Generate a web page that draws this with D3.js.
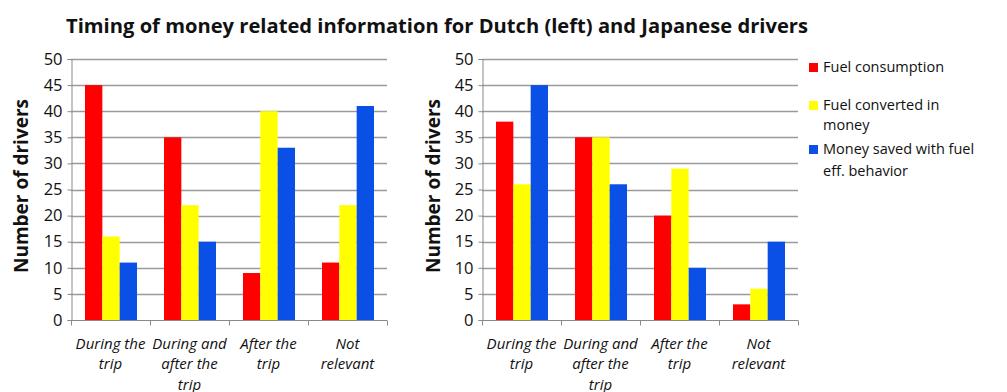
<!DOCTYPE html>
<html>
<head>
<meta charset="utf-8">
<script src="https://cdn.jsdelivr.net/npm/d3@7"></script>
<style>
  body { margin: 0; background: #fff; }
  svg { display: block; }
</style>
</head>
<body>
<svg></svg>
<script>
// categories + series
const categories = [
    ['During the', 'trip'],
    ['During and', 'after the', 'trip'],
    ['After the', 'trip'],
    ['Not', 'relevant']
];
const seriesNames = ['Fuel consumption', 'Fuel converted in money', 'Money saved with fuel eff. behavior'];
const legendLines = [['Fuel consumption'], ['Fuel converted in', 'money'], ['Money saved with fuel', 'eff. behavior']];
const colors = ['#ff0000', '#ffff00', '#0a4fe6'];

const dutchFuel = [45, 35, 9, 11];
const dutchMoney = [16, 22, 40, 22];
const dutchSaved = [11, 15, 33, 41];

const japanFuel = [38, 35, 20, 3];
const japanMoney = [26, 35, 29, 6];
const japanSaved = [45, 26, 10, 15];

const yTicks = [0, 5, 10, 15, 20, 25, 30, 35, 40, 45, 50];

const WIDTH = 1007, HEIGHT = 392;
const TOP = 59, BOTTOM = 320;
const PLOT_W = 316;

const svg = d3.select('svg').attr('width', WIDTH).attr('height', HEIGHT);

// title
svg.append('text')
    .attr('x', 66).attr('y', 33)
    .attr('textLength', 742).attr('lengthAdjust', 'spacingAndGlyphs')
    .style('font-family', 'Open Sans, sans-serif')
    .style('font-weight', 'bold')
    .style('font-size', '19px')
    .attr('fill', '#111')
    .text('Timing of money related information for Dutch (left) and Japanese drivers');

const y = d3.scaleLinear().domain([0, 50]).range([BOTTOM, TOP]);

function drawPanel(left, labelX, data) {
    const g = svg.append('g').attr('transform', `translate(${left},0)`);

    const x = d3.scaleBand().domain(d3.range(categories.length)).range([0, PLOT_W]).paddingInner(0).paddingOuter(0);
    const xs = d3.scaleBand().domain(d3.range(seriesNames.length)).range([14, x.bandwidth() - 13]);

    // gridlines
    g.append('g').selectAll('line').data(yTicks.slice(1)).join('line')
        .attr('x1', 0).attr('x2', PLOT_W)
        .attr('y1', d => Math.round(y(d)) + 0.5).attr('y2', d => Math.round(y(d)) + 0.5)
        .attr('stroke', '#9a9a9a').attr('stroke-width', 1.3);

    // y axis
    const yAxis = g.append('g').attr('transform', 'translate(0.5,0)')
        .call(d3.axisLeft(y).tickValues(yTicks).tickSize(4).tickPadding(5));
    yAxis.select('.domain').attr('stroke', '#8a8a8a');
    yAxis.selectAll('.tick line').attr('stroke', '#8a8a8a');
    yAxis.selectAll('text')
        .style('font-family', 'Open Sans, sans-serif')
        .style('font-size', '16.5px')
        .attr('fill', '#111');

    // bars
    const groups = g.append('g').selectAll('g').data(categories.map((c, i) => i)).join('g')
        .attr('transform', i => `translate(${x(i)},0)`);
    groups.selectAll('rect')
        .data(i => data.map((s, k) => ({ k, v: s[i] })))
        .join('rect')
        .attr('x', d => xs(d.k))
        .attr('width', xs.bandwidth())
        .attr('y', d => y(d.v))
        .attr('height', d => y(0) - y(d.v))
        .attr('fill', d => colors[d.k]);

    // x axis
    const xAxis = g.append('g').attr('transform', `translate(0,${BOTTOM + 0.5})`);
    xAxis.append('line').attr('x1', 0).attr('x2', PLOT_W).attr('stroke', '#8a8a8a');
    xAxis.selectAll('.xt').data(d3.range(categories.length + 1)).join('line')
        .attr('class', 'xt')
        .attr('x1', i => Math.round(i * x.step()) + 0.5).attr('x2', i => Math.round(i * x.step()) + 0.5)
        .attr('y1', 0).attr('y2', 5)
        .attr('stroke', '#8a8a8a');

    const labels = xAxis.selectAll('text').data(categories).join('text')
        .attr('x', (d, i) => x(i) + x.bandwidth() / 2)
        .attr('y', 28)
        .attr('text-anchor', 'middle')
        .style('font-family', 'Open Sans, sans-serif')
        .style('font-style', 'italic')
        .style('font-size', '15px')
        .attr('fill', '#111');
    labels.selectAll('tspan').data(d => d).join('tspan')
        .attr('x', function () { return this.parentNode.getAttribute('x'); })
        .attr('dy', (d, j) => j === 0 ? 0 : 20.5)
        .text(d => d);

    // y label
    svg.append('text')
        .attr('transform', `translate(${labelX},186) rotate(-90)`)
        .attr('text-anchor', 'middle')
        .style('font-family', 'Open Sans, sans-serif')
        .style('font-weight', 'bold')
        .style('font-size', '19px')
        .attr('fill', '#111')
        .text('Number of drivers');
}

drawPanel(71, 28, [dutchFuel, dutchMoney, dutchSaved]);
drawPanel(482, 440, [japanFuel, japanMoney, japanSaved]);

// legend
const legendY = [72, 110, 154];
const legendDy = [0, 20, 22];
const legend = svg.append('g').selectAll('g').data(seriesNames).join('g')
    .attr('transform', (d, i) => `translate(809,${legendY[i]})`);
legend.append('rect')
    .attr('x', 0).attr('y', -9).attr('width', 9).attr('height', 9)
    .attr('fill', (d, i) => colors[i]);
legend.append('text')
    .attr('x', 14).attr('y', 0)
    .style('font-family', 'Open Sans, sans-serif')
    .style('font-size', '14.5px')
    .attr('fill', '#111')
    .selectAll('tspan').data((d, i) => legendLines[i].map(t => ({ t, i }))).join('tspan')
    .attr('x', 14)
    .attr('dy', (d, j) => j === 0 ? 0 : legendDy[d.i])
    .text(d => d.t);
</script>
</body>
</html>
